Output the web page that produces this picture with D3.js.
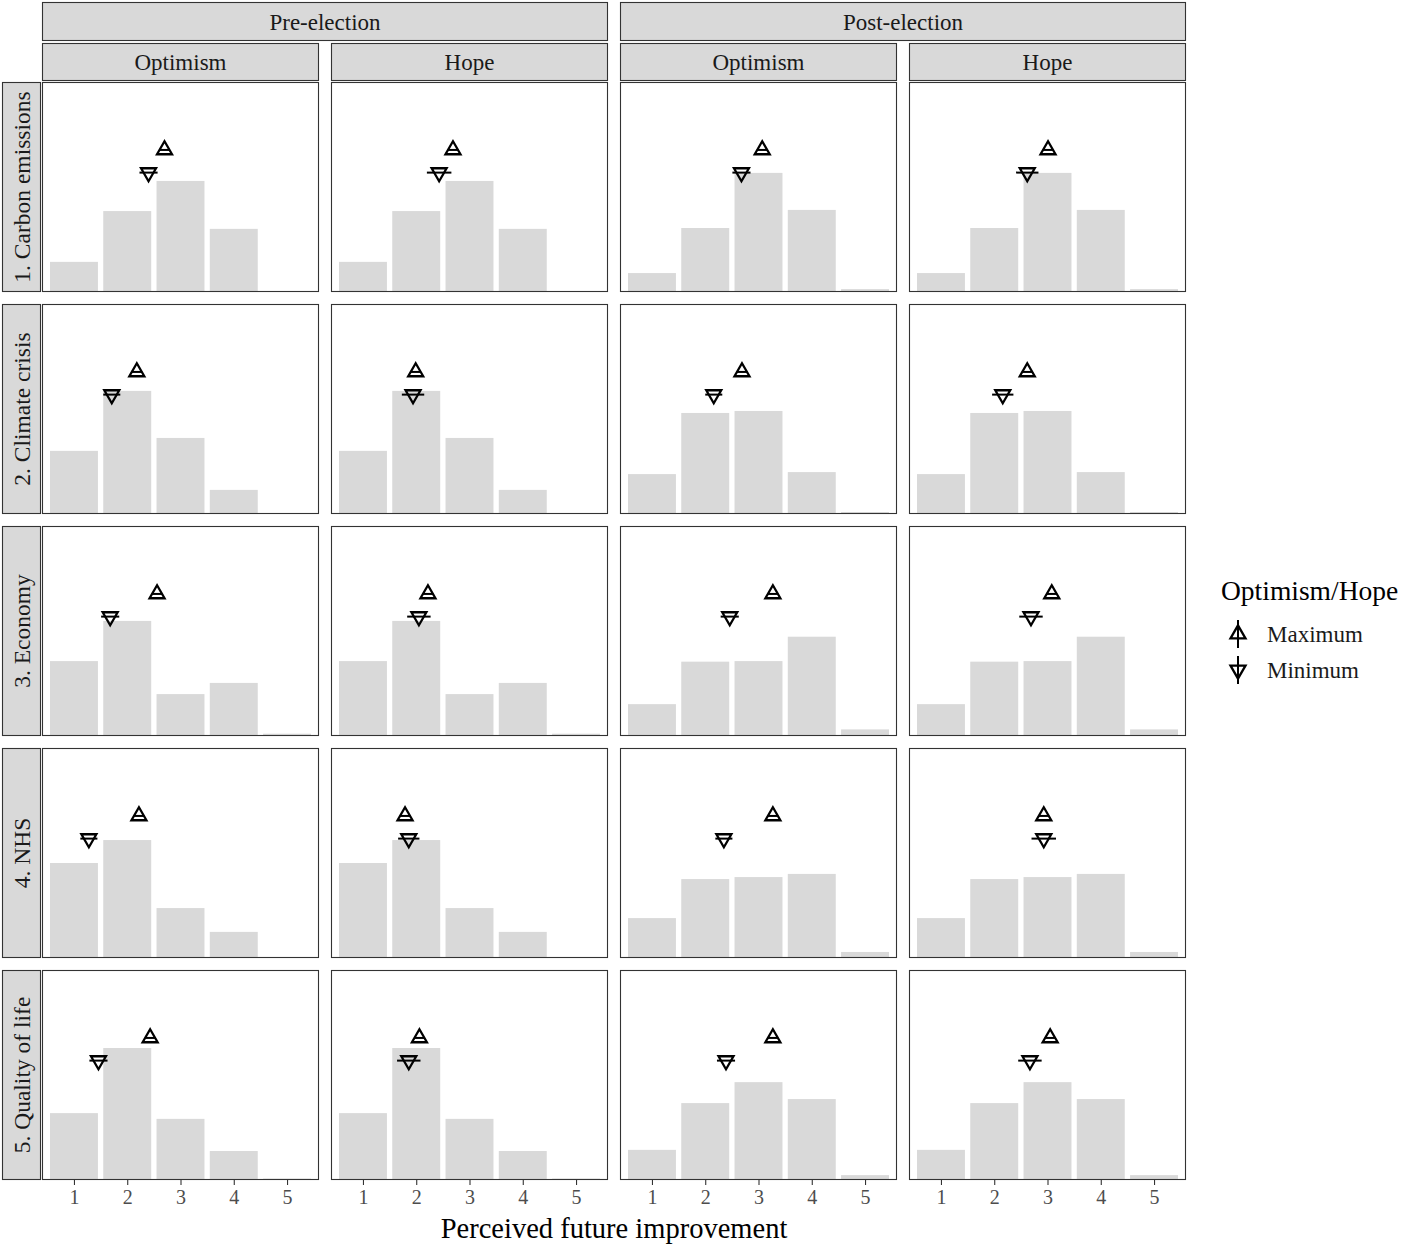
<!DOCTYPE html>
<html>
<head>
<meta charset="utf-8">
<script src="https://cdn.jsdelivr.net/npm/d3@7"></script>
<style>
  html, body { margin: 0; padding: 0; background: #fff; }
  svg { display: block; }
  text { font-family: "Liberation Serif", "DejaVu Serif", serif; }
</style>
</head>
<body>
<script>
// ---------------- DATA ----------------
const topics = ["1. Carbon emissions", "2. Climate crisis", "3. Economy", "4. NHS", "5. Quality of life"];
const periods = ["Pre-election", "Post-election"];
const measures = ["Optimism", "Hope"];
const levels = [1, 2, 3, 4, 5];
const xTicks = [1, 2, 3, 4, 5];

// proportion of responses per level (rows = topics)
const preProp = [
  [0.105, 0.282, 0.387, 0.220, 0.003],
  [0.220, 0.429, 0.265, 0.084, 0.002],
  [0.261, 0.401, 0.146, 0.185, 0.008],
  [0.331, 0.411, 0.174, 0.091, 0.000],
  [0.233, 0.460, 0.213, 0.101, 0.005]
];
const postProp = [
  [0.066, 0.223, 0.415, 0.286, 0.010],
  [0.139, 0.352, 0.359, 0.146, 0.007],
  [0.111, 0.259, 0.261, 0.346, 0.023],
  [0.139, 0.275, 0.282, 0.293, 0.021],
  [0.105, 0.268, 0.341, 0.282, 0.017]
];

// columns: Pre-Optimism, Pre-Hope, Post-Optimism, Post-Hope
const maxMean = [
  [2.70, 2.69, 3.07, 3.01],
  [2.18, 1.99, 2.69, 2.62],
  [2.56, 2.22, 3.27, 3.08],
  [2.22, 1.79, 3.27, 2.93],
  [2.43, 2.06, 3.27, 3.05]
];
const minMean = [
  [2.40, 2.43, 2.68, 2.62],
  [1.71, 1.94, 2.16, 2.16],
  [1.68, 2.05, 2.46, 2.69],
  [1.28, 1.86, 2.35, 2.93],
  [1.46, 1.86, 2.39, 2.67]
];
const maxHalfCI = [
  [0.10, 0.10, 0.10, 0.10],
  [0.10, 0.10, 0.10, 0.10],
  [0.10, 0.10, 0.10, 0.10],
  [0.10, 0.10, 0.10, 0.10],
  [0.10, 0.10, 0.10, 0.10]
];
const minHalfCI = [
  [0.17, 0.23, 0.17, 0.21],
  [0.16, 0.21, 0.16, 0.20],
  [0.17, 0.22, 0.17, 0.22],
  [0.16, 0.20, 0.16, 0.23],
  [0.17, 0.22, 0.17, 0.22]
];
const maxLevelY = 0.495;   // vertical placement of the Maximum markers
const minLevelY = 0.416;   // vertical placement of the Minimum markers
const legendTitle = "Optimism/Hope";
const legendLabels = ["Maximum", "Minimum"];
const xTitle = "Perceived future improvement";

// ---------------- LAYOUT ----------------
const W = 1406, H = 1247;
const panelW = 277, panelH = 210, gapX = 12, gapY = 12;
const left0 = 42, top0 = 82;
const strip1Top = 2, strip1H = 39, strip2Top = 43, strip2H = 38;
const rowStripLeft = 2, rowStripW = 39;
const stripFill = "#d9d9d9", borderCol = "#333333";

const svg = d3.select("body").append("svg").attr("width", W).attr("height", H);

const x = d3.scaleLinear().domain([0.4, 5.6]).range([0, panelW]);
const y = d3.scaleLinear().domain([0, panelH / 287]).range([panelH, 0]);
const band = x(1.9) - x(1.0);

function triPath(up) {
  const s = 15, h = 13;
  if (up) return `M0,${-2*h/3}L${s/2},${h/3}L${-s/2},${h/3}Z`;
  return `M0,${2*h/3}L${s/2},${-h/3}L${-s/2},${-h/3}Z`;
}

const columns = [];
periods.forEach((p, pi) => measures.forEach((m, mi) => columns.push({p, pi, m, mi})));

// top strips (period)
periods.forEach((p, pi) => {
  const x0 = left0 + pi * 2 * (panelW + gapX);
  const w = 2 * panelW + gapX;
  svg.append("rect").attr("x", x0 + 0.5).attr("y", strip1Top + 0.5).attr("width", w - 1).attr("height", strip1H - 1)
    .attr("fill", stripFill).attr("stroke", borderCol).attr("stroke-width", 1.1);
  svg.append("text").attr("x", x0 + w / 2).attr("y", strip1Top + strip1H / 2).attr("dy", "0.35em")
    .attr("text-anchor", "middle").attr("font-size", 23).attr("fill", "#1a1a1a").text(p);
});

// second strips (measure)
columns.forEach((c, ci) => {
  const x0 = left0 + ci * (panelW + gapX);
  svg.append("rect").attr("x", x0 + 0.5).attr("y", strip2Top + 0.5).attr("width", panelW - 1).attr("height", strip2H - 1)
    .attr("fill", stripFill).attr("stroke", borderCol).attr("stroke-width", 1.1);
  svg.append("text").attr("x", x0 + panelW / 2).attr("y", strip2Top + strip2H / 2).attr("dy", "0.35em")
    .attr("text-anchor", "middle").attr("font-size", 23).attr("fill", "#1a1a1a").text(c.m);
});

topics.forEach((t, ti) => {
  const y0 = top0 + ti * (panelH + gapY);
  // row strip
  svg.append("rect").attr("x", rowStripLeft + 0.5).attr("y", y0 + 0.5).attr("width", rowStripW - 1).attr("height", panelH - 1)
    .attr("fill", stripFill).attr("stroke", borderCol).attr("stroke-width", 1.1);
  svg.append("text")
    .attr("transform", `translate(${rowStripLeft + rowStripW / 2},${y0 + panelH / 2}) rotate(-90)`)
    .attr("dy", "0.35em").attr("text-anchor", "middle").attr("font-size", 23.5).attr("fill", "#1a1a1a").text(t);

  columns.forEach((c, ci) => {
    const x0 = left0 + ci * (panelW + gapX);
    const g = svg.append("g").attr("transform", `translate(${x0},${y0})`);
    const props = c.pi === 0 ? preProp[ti] : postProp[ti];
    g.selectAll("rect.bar").data(levels).join("rect").attr("class", "bar")
      .attr("x", d => x(d) - band / 2).attr("width", band)
      .attr("y", (d, i) => y(props[i])).attr("height", (d, i) => panelH - y(props[i]))
      .attr("fill", "#d9d9d9");

    const marks = [
      {up: true, mx: maxMean[ti][ci], hw: maxHalfCI[ti][ci], yy: maxLevelY},
      {up: false, mx: minMean[ti][ci], hw: minHalfCI[ti][ci], yy: minLevelY}
    ];
    marks.forEach(mk => {
      g.append("line").attr("x1", x(mk.mx - mk.hw)).attr("x2", x(mk.mx + mk.hw))
        .attr("y1", y(mk.yy)).attr("y2", y(mk.yy)).attr("stroke", "#000").attr("stroke-width", 2);
      g.append("path").attr("d", triPath(mk.up))
        .attr("transform", `translate(${x(mk.mx)},${y(mk.yy)})`)
        .attr("fill", "none").attr("stroke", "#000").attr("stroke-width", 2.3).attr("stroke-linejoin", "miter");
    });

    g.append("rect").attr("x", 0.5).attr("y", 0.5).attr("width", panelW - 1).attr("height", panelH - 1)
      .attr("fill", "none").attr("stroke", borderCol).attr("stroke-width", 1.1);

    if (ti === topics.length - 1) {
      const ax = g.append("g").attr("transform", `translate(0,${panelH})`)
        .call(d3.axisBottom(x).tickValues(xTicks).tickSize(5).tickPadding(5).tickFormat(d3.format("d")));
      ax.select(".domain").remove();
      ax.selectAll("line").attr("stroke", "#333").attr("stroke-width", 1.1);
      ax.selectAll("text").attr("font-size", 20).attr("fill", "#4d4d4d")
        .attr("font-family", "'Liberation Serif', 'DejaVu Serif', serif");
    }
  });
});

// x-axis title
svg.append("text").attr("x", left0 + (4 * panelW + 3 * gapX) / 2).attr("y", 1238)
  .attr("text-anchor", "middle").attr("font-size", 28.5).attr("fill", "#000").text(xTitle);

// legend
const lg = svg.append("g").attr("transform", "translate(1221,0)");
lg.append("text").attr("x", 0).attr("y", 600).attr("font-size", 27.5).attr("fill", "#000").text(legendTitle);
legendLabels.forEach((lab, i) => {
  const cy = 634 + i * 36;
  lg.append("line").attr("x1", 17).attr("x2", 17).attr("y1", cy - 14).attr("y2", cy + 14)
    .attr("stroke", "#000").attr("stroke-width", 2);
  lg.append("path").attr("d", triPath(i === 0)).attr("transform", `translate(17,${cy})`)
    .attr("fill", "none").attr("stroke", "#000").attr("stroke-width", 2.3);
  lg.append("text").attr("x", 46).attr("y", cy).attr("dy", "0.35em").attr("font-size", 23).attr("fill", "#1a1a1a").text(lab);
});
</script>
</body>
</html>
